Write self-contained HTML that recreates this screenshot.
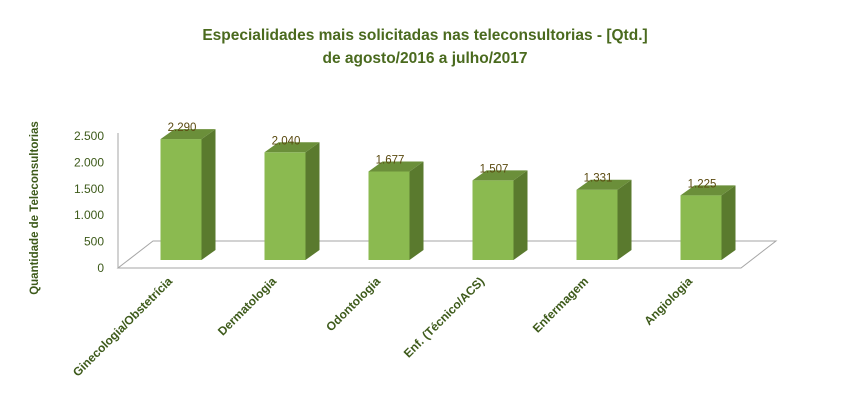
<!DOCTYPE html>
<html><head><meta charset="utf-8"><style>
body{margin:0;background:#fff}
svg{display:block;font-family:"Liberation Sans",sans-serif}
</style></head><body>
<svg width="849" height="400" viewBox="0 0 849 400">
<text x="425" y="40" text-anchor="middle" font-size="15.5" font-weight="bold" fill="#4a6a1e">Especialidades mais solicitadas nas teleconsultorias -  [Qtd.]</text>
<text x="425" y="63" text-anchor="middle" font-size="15.5" font-weight="bold" fill="#4a6a1e">de  agosto/2016 a julho/2017</text>
<text transform="translate(38,208) rotate(-90)" text-anchor="middle" font-size="11.5" font-weight="bold" fill="#3d5a1a">Quantidade de Teleconsultorias</text>
<g id="floor">
<polygon points="118,268 741,268 776,241 153,241" fill="#fff" stroke="#a6a6a6" stroke-width="1"/>
<line x1="118" y1="133" x2="118" y2="268" stroke="#a6a6a6"/>
</g>
<g id="ticks"></g>
<g id="bars"></g>
<g id="labels"></g>
</svg>
<script>
const categories=["Ginecologia/Obstetrícia","Dermatologia","Odontologia","Enf. (Técnico/ACS)","Enfermagem","Angiologia"];
const values=[2290,2040,1677,1507,1331,1225];
const valueLabels=["2.290","2.040","1.677","1.507","1.331","1.225"];
const tickValues=[0,500,1000,1500,2000,2500];
const tickLabels=["0","500","1.000","1.500","2.000","2.500"];
const NS="http://www.w3.org/2000/svg";
function mk(t,a,p){const e=document.createElementNS(NS,t);for(const k in a)e.setAttribute(k,a[k]);p.appendChild(e);return e;}
const axisY=v=>268-v*0.0528;
const barY=v=>260-v*0.0528;
const xC=i=>181+i*104;
const W=41,DX=14,DY=10;
const tg=document.getElementById('ticks');
tickValues.forEach((v,i)=>{const t=mk('text',{x:104,y:axisY(v)+4,'text-anchor':'end','font-size':12,fill:'#3d5a1a'},tg);


t.textContent=tickLabels[i];});
const bg=document.getElementById('bars'),lg=document.getElementById('labels');
values.forEach((v,i)=>{const g=mk('g',{},bg);


const x0=xC(i)-W/2,x1=x0+W,yt=barY(v),yb=260;
mk('rect',{x:x0,y:yt,width:W,height:yb-yt,fill:'#8bba50'},g);
mk('polygon',{points:`${x1},${yt} ${x1+DX},${yt-DY} ${x1+DX},${yb-DY} ${x1},${yb}`,fill:'#5a7a2e'},g);
mk('polygon',{points:`${x0},${yt} ${x0+DX},${yt-DY} ${x1+DX},${yt-DY} ${x1},${yt}`,fill:'#6b8f3a'},g);
const vl=mk('text',{x:xC(i)+1,y:yt-8,'text-anchor':'middle','font-size':11.5,fill:'#5a4a10'},lg);


vl.textContent=valueLabels[i];
const cl=mk('text',{transform:`translate(${xC(i)-8},${282}) rotate(-45)`,'text-anchor':'end','font-size':12,'font-weight':'bold',fill:'#3d5a1a'},lg);


cl.textContent=categories[i];});
</script>
</body></html>
